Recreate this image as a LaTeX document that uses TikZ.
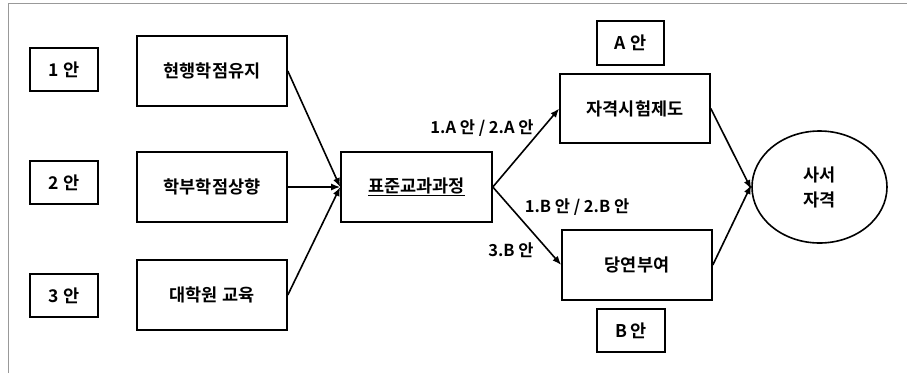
\documentclass[tikz,border=0pt]{standalone}
\usepackage{fontspec}
\setmainfont{Noto Sans CJK KR}[BoldFont={Noto Sans CJK KR Bold}]
\usetikzlibrary{arrows.meta,shapes.geometric}
\begin{document}
\begin{tikzpicture}[x=1pt,y=-1pt,
  box/.style={draw,line width=1.6pt,inner sep=0pt,font=\fontsize{17.5}{20}\selectfont\bfseries},
  lbl/.style={inner sep=0pt,font=\fontsize{16.5}{18}\selectfont\bfseries},
  arr/.style={line width=1.6pt,-{Latex[length=9pt,width=7pt]}}]
\useasboundingbox (0,0) rectangle (907,373);
\draw[gray!80,line width=1pt] (8,373) -- (8,3) -- (907,3);
% option boxes
\node[box,minimum width=68,minimum height=43] (o1) at (64,69.5) {1 안};
\node[box,minimum width=68,minimum height=43] (o2) at (64,182.5) {2 안};
\node[box,minimum width=68,minimum height=43] (o3) at (64,295.5) {3 안};
% middle boxes
\node[box,minimum width=150,minimum height=70] (m1) at (212,71) {현행학점유지};
\node[box,minimum width=150,minimum height=70] (m2) at (212,187) {학부학점상향};
\node[box,minimum width=150,minimum height=70] (m3) at (212,295) {대학원 교육};
% centre
\node[box,minimum width=151,minimum height=70] (c) at (416.5,187) {\underline{표준교과과정}};
% right
\node[box,minimum width=150,minimum height=69] (j) at (635,108.5) {자격시험제도};
\node[box,minimum width=150,minimum height=70] (d) at (637,265) {당연부여};
\node[box,minimum width=67,minimum height=44] (a) at (630.5,43) {A 안};
\node[box,minimum width=68,minimum height=43] (b) at (631,330.5) {B 안};
\node[box,ellipse,minimum width=135,minimum height=112,align=center] (e) at (819.5,187) {사서\\[5pt]자격};
% connectors
\draw[arr] (m1.east) -- (c.west);
\draw[arr] (m2.east) -- (c.west);
\draw[arr] (m3.east) -- (c.west);
\draw[arr] (c.east) -- (j.west);
\draw[arr] (c.east) -- (d.west);
\draw[arr] (j.east) -- ([yshift=-2pt]e.west);
\draw[arr] (d.east) -- ([yshift=2pt]e.west);
% labels
\node[lbl] (la) at (482,128) {1.A 안 / 2.A 안};
\node[lbl] (lb) at (577,207) {1.B 안 / 2.B 안};
\node[lbl] (lc) at (511,250) {3.B 안};
\end{tikzpicture}
\end{document}
